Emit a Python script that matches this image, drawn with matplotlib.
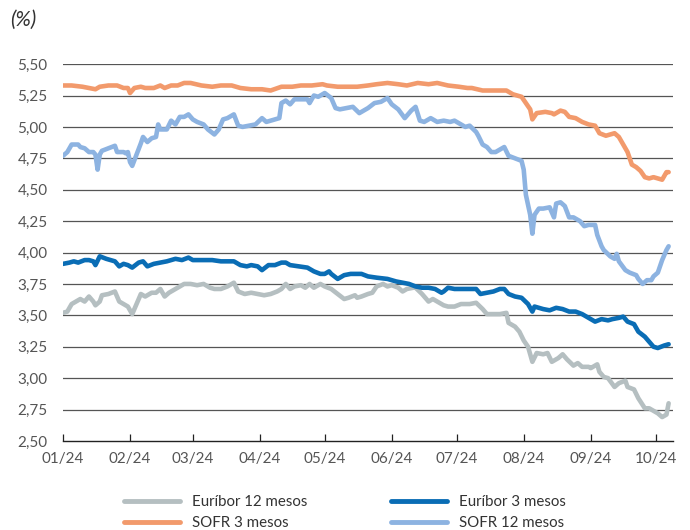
import numpy as np
import matplotlib
matplotlib.use("Agg")
import matplotlib.pyplot as plt
import matplotlib.dates as mdates
from matplotlib.lines import Line2D

plt.rcParams["font.family"] = ["Lato", "DejaVu Sans"]

START = np.datetime64("2024-01-01")

# valors llegits del gràfic (dies des de l'1/1/2024, %)
eur12_days = [0, 2, 4, 6, 8, 10, 12, 14, 15, 17, 18, 21, 24, 26, 28, 30, 32, 34, 36, 38, 41, 43, 45, 47,
              49, 52, 54, 56, 59, 62, 65, 68, 70, 73, 76, 79, 81, 84, 87, 90, 93, 96, 99, 101, 103,
              105, 107, 110, 112, 114, 116, 119, 121, 124, 127, 130, 132, 135, 136, 138, 141, 143,
              145, 148, 150, 152, 155, 157, 159, 162, 163, 166, 169, 171, 173, 176, 178, 181, 184,
              188, 191, 194, 196, 199, 202, 205, 206, 209, 211, 213, 215, 216, 217, 219, 222, 224,
              226, 229, 231, 233, 236, 238, 240, 243, 244, 247, 248, 250, 252, 255, 257, 260, 261,
              264, 266, 269, 271, 273, 275, 277, 279, 280]
eur12_vals = [3.52, 3.53, 3.59, 3.61, 3.63, 3.61, 3.65, 3.61, 3.58, 3.61, 3.66, 3.67, 3.69, 3.61, 3.59,
              3.57, 3.51, 3.59, 3.67, 3.65, 3.68, 3.68, 3.71, 3.65, 3.68, 3.71, 3.73, 3.75, 3.75, 3.74,
              3.75, 3.72, 3.71, 3.71, 3.73, 3.76, 3.69, 3.67, 3.68, 3.67, 3.66, 3.67, 3.69, 3.71, 3.75,
              3.71, 3.73, 3.74, 3.72, 3.75, 3.72, 3.75, 3.73, 3.71, 3.67, 3.63, 3.64, 3.66, 3.64, 3.65,
              3.67, 3.68, 3.73, 3.75, 3.73, 3.74, 3.72, 3.69, 3.71, 3.72, 3.72, 3.67, 3.61, 3.63, 3.61,
              3.58, 3.57, 3.57, 3.59, 3.59, 3.60, 3.55, 3.51, 3.51, 3.51, 3.52, 3.44, 3.41, 3.37, 3.30,
              3.25, 3.19, 3.13, 3.20, 3.19, 3.20, 3.13, 3.16, 3.19, 3.15, 3.10, 3.12, 3.09, 3.09, 3.08,
              3.11, 3.05, 3.01, 3.00, 2.93, 2.96, 2.98, 2.93, 2.91, 2.84, 2.76, 2.76, 2.74, 2.72, 2.69,
              2.71, 2.80]

eur3_days = [0, 3, 5, 7, 10, 12, 14, 15, 17, 20, 22, 24, 26, 28, 30, 32, 35, 37, 39, 42, 45, 48, 52, 55,
             58, 60, 64, 69, 73, 79, 82, 85, 87, 90, 92, 95, 98, 101, 103, 105, 109, 113, 116, 119,
             121, 123, 124, 127, 130, 133, 136, 138, 141, 145, 150, 154, 157, 160, 163, 166, 169,
             172, 175, 176, 178, 181, 184, 188, 191, 193, 196, 199, 202, 204, 206, 209, 212, 215,
             217, 218, 222, 225, 228, 231, 234, 237, 240, 243, 246, 249, 252, 254, 257, 259, 261,
             264, 266, 269, 271, 273, 275, 278, 280]
eur3_vals = [3.91, 3.92, 3.93, 3.92, 3.94, 3.94, 3.93, 3.90, 3.97, 3.95, 3.94, 3.93, 3.89, 3.91, 3.90,
             3.88, 3.92, 3.93, 3.89, 3.91, 3.92, 3.93, 3.95, 3.94, 3.96, 3.94, 3.94, 3.94, 3.93, 3.93,
             3.90, 3.89, 3.90, 3.89, 3.86, 3.90, 3.90, 3.92, 3.92, 3.90, 3.89, 3.88, 3.85, 3.83, 3.83,
             3.85, 3.83, 3.79, 3.82, 3.83, 3.83, 3.83, 3.81, 3.80, 3.79, 3.77, 3.76, 3.75, 3.73, 3.72,
             3.72, 3.71, 3.68, 3.69, 3.72, 3.71, 3.71, 3.71, 3.71, 3.67, 3.68, 3.69, 3.71, 3.71, 3.67,
             3.65, 3.64, 3.59, 3.53, 3.57, 3.55, 3.54, 3.56, 3.55, 3.53, 3.53, 3.51, 3.48, 3.45, 3.47,
             3.46, 3.47, 3.48, 3.49, 3.45, 3.43, 3.37, 3.33, 3.29, 3.25, 3.24, 3.26, 3.27]

sofr3_days = [0, 4, 9, 12, 15, 17, 21, 25, 28, 30, 31, 33, 36, 38, 42, 45, 47, 50, 53, 56, 59, 64, 69,
              73, 78, 82, 87, 92, 96, 101, 106, 110, 115, 120, 122, 127, 131, 136, 141, 145, 150,
              155, 159, 164, 169, 173, 178, 183, 187, 189, 194, 199, 205, 208, 212, 214, 216, 217,
              219, 223, 226, 227, 230, 232, 234, 237, 240, 243, 246, 248, 251, 253, 255, 257, 259,
              261, 263, 265, 267, 269, 271, 273, 275, 277, 279, 280]
sofr3_vals = [5.33, 5.33, 5.32, 5.31, 5.30, 5.32, 5.33, 5.33, 5.31, 5.31, 5.27, 5.31, 5.32, 5.31, 5.31,
              5.33, 5.31, 5.33, 5.33, 5.35, 5.35, 5.33, 5.32, 5.33, 5.33, 5.31, 5.30, 5.30, 5.29, 5.32,
              5.32, 5.33, 5.33, 5.34, 5.33, 5.32, 5.32, 5.32, 5.33, 5.34, 5.35, 5.34, 5.33, 5.35, 5.34,
              5.35, 5.33, 5.32, 5.31, 5.31, 5.29, 5.29, 5.29, 5.26, 5.24, 5.19, 5.14, 5.06, 5.11, 5.12,
              5.11, 5.10, 5.13, 5.12, 5.08, 5.07, 5.04, 5.02, 5.01, 4.95, 4.93, 4.94, 4.95, 4.92, 4.86,
              4.80, 4.70, 4.68, 4.65, 4.60, 4.59, 4.60, 4.59, 4.58, 4.64, 4.64]

sofr12_days = [0, 2, 4, 7, 8, 10, 12, 14, 15, 16, 17, 18, 21, 24, 25, 28, 29, 30, 31, 32, 34, 36, 37,
               39, 41, 43, 44, 45, 48, 50, 52, 54, 56, 58, 60, 62, 65, 67, 70, 72, 74, 76, 79, 81,
               83, 86, 89, 92, 94, 96, 100, 101, 103, 105, 107, 110, 113, 114, 116, 118, 121, 124,
               126, 128, 131, 134, 137, 139, 141, 144, 147, 150, 152, 155, 158, 161, 163, 165, 167,
               170, 173, 176, 179, 181, 183, 186, 188, 191, 192, 194, 196, 198, 200, 202, 204, 206,
               209, 212, 213, 214, 216, 217, 218, 220, 222, 225, 227, 228, 230, 232, 234, 236, 239,
               241, 243, 246, 247, 249, 250, 253, 255, 256, 257, 260, 262, 265, 266, 268, 270, 272,
               273, 275, 277, 279, 280]
sofr12_vals = [4.77, 4.80, 4.86, 4.86, 4.84, 4.83, 4.80, 4.80, 4.78, 4.66, 4.78, 4.81, 4.83, 4.85, 4.80,
               4.80, 4.79, 4.80, 4.72, 4.69, 4.78, 4.87, 4.92, 4.88, 4.91, 4.92, 5.02, 4.98, 4.98, 5.05,
               5.02, 5.08, 5.08, 5.10, 5.06, 5.04, 5.02, 4.98, 4.94, 4.98, 5.06, 5.07, 5.10, 5.01, 5.00,
               5.01, 5.02, 5.07, 5.04, 5.05, 5.07, 5.19, 5.21, 5.18, 5.22, 5.22, 5.22, 5.19, 5.25, 5.24,
               5.27, 5.23, 5.15, 5.14, 5.15, 5.16, 5.11, 5.13, 5.15, 5.19, 5.20, 5.23, 5.18, 5.14, 5.07,
               5.13, 5.16, 5.05, 5.04, 5.07, 5.04, 5.05, 5.04, 5.05, 5.03, 5.00, 5.01, 4.96, 4.93, 4.86,
               4.84, 4.80, 4.80, 4.82, 4.84, 4.77, 4.75, 4.73, 4.66, 4.46, 4.30, 4.15, 4.30, 4.35, 4.35,
               4.36, 4.28, 4.39, 4.40, 4.37, 4.28, 4.28, 4.25, 4.21, 4.22, 4.22, 4.14, 4.05, 4.02, 3.97,
               3.95, 3.99, 3.93, 3.86, 3.84, 3.82, 3.79, 3.75, 3.78, 3.78, 3.81, 3.84, 3.94, 4.02, 4.05]

series = [
    ("Euríbor 12 mesos", eur12_days, eur12_vals, "#b5bfc1"),
    ("SOFR 3 mesos", sofr3_days, sofr3_vals, "#f29a6c"),
    ("Euríbor 3 mesos", eur3_days, eur3_vals, "#0a6db5"),
    ("SOFR 12 mesos", sofr12_days, sofr12_vals, "#8db3e1"),
]
draw_order = [0, 1, 3, 2]

fig = plt.figure(figsize=(6.9, 5.3), dpi=100)
ax = fig.add_axes([0.0913, 0.168, 0.884, 0.711])

for i in draw_order:
    name, days, vals, color = series[i]
    dates = START + np.array(days).astype("timedelta64[D]")
    ax.plot(dates, vals, color=color, lw=3.3, solid_joinstyle="round", solid_capstyle="round", zorder=3)

ax.set_ylim(2.5, 5.5)
ax.set_xlim(START, START + np.timedelta64(282, "D"))
yticks = np.arange(2.5, 5.51, 0.25)
ax.set_yticks(yticks)
ax.set_yticklabels([f"{v:.2f}".replace(".", ",") for v in yticks])
for v in yticks[1:]:
    ax.axhline(v, color="#555555", lw=0.9, zorder=1)

ax.xaxis.set_major_locator(mdates.MonthLocator())
ax.xaxis.set_major_formatter(mdates.DateFormatter("%m/%y"))

for s in ["top", "right", "left"]:
    ax.spines[s].set_visible(False)
ax.spines["bottom"].set_color("#222222")
ax.spines["bottom"].set_linewidth(1.0)
ax.tick_params(axis="y", length=0, pad=11, labelsize=11, labelcolor="#555555")
ax.tick_params(axis="x", direction="in", length=5, width=0.9, color="#222222",
               pad=8, labelsize=11, labelcolor="#555555")

fig.text(0.015, 0.962, "(%)", fontsize=15, style="italic", color="#333333", va="center")

handles = [Line2D([], [], color=c, lw=3.5, solid_capstyle="round") for _, _, _, c in series]
labels = [n for n, _, _, _ in series]
fig.legend(handles, labels, ncol=2, loc="center", bbox_to_anchor=(0.5, 0.033),
           frameon=False, fontsize=10.8, handlelength=3.7, handletextpad=0.8,
           columnspacing=5.6, labelspacing=0.5, labelcolor="#333333")

fig.savefig("out.png", dpi=100)
